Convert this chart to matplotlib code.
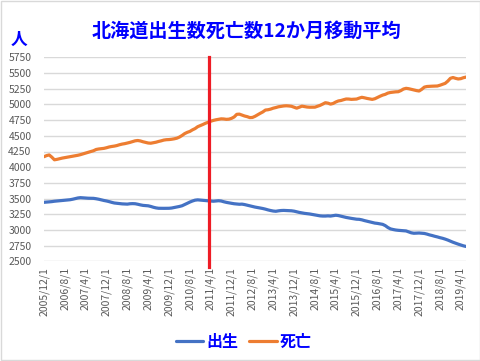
import numpy as np
import pandas as pd
import matplotlib
matplotlib.use("Agg")
import matplotlib.pyplot as plt
from matplotlib.patches import Rectangle

plt.rcParams['font.family'] = ['Noto Sans CJK JP', 'DejaVu Sans']

# 12-month moving averages, monthly from 2005/12 to 2019/6
start_month = "2005-12-01"

births = [
    3441, 3444, 3448, 3452, 3458, 3462, 3466, 3470, 3475, 3478, 3482, 3490,
    3500, 3510, 3515, 3512, 3508, 3506, 3505, 3504, 3498, 3490, 3480, 3470,
    3462, 3452, 3440, 3430, 3425, 3420, 3416, 3414, 3412, 3418, 3420, 3418,
    3410, 3400, 3392, 3388, 3385, 3375, 3362, 3352, 3346, 3345, 3345, 3346,
    3346, 3350, 3358, 3366, 3375, 3386, 3405, 3425, 3445, 3462, 3475, 3480,
    3476, 3472, 3467, 3465, 3462, 3458, 3462, 3466, 3462, 3450, 3440, 3432,
    3425, 3418, 3414, 3410, 3412, 3405, 3395, 3385, 3375, 3365, 3358, 3350,
    3342, 3332, 3320, 3310, 3302, 3298, 3305, 3310, 3312, 3310, 3308, 3306,
    3300, 3290, 3280, 3272, 3265, 3260, 3255, 3248, 3240, 3232, 3225, 3222,
    3222, 3225, 3222, 3228, 3235, 3230, 3220, 3210, 3200, 3192, 3185, 3178,
    3172, 3170, 3162, 3150, 3140, 3130, 3120, 3110, 3105, 3098, 3090, 3070,
    3040, 3018, 3008, 3000, 2995, 2992, 2990, 2985, 2970, 2955, 2948, 2950,
    2952, 2948, 2945, 2935, 2922, 2912, 2900, 2890, 2878, 2868, 2855, 2840,
    2822, 2805, 2790, 2775, 2762, 2748, 2738,
]

deaths = [
    4167, 4185, 4195, 4160, 4118, 4125, 4135, 4145, 4152, 4160, 4168, 4175,
    4182, 4190, 4200, 4212, 4225, 4238, 4250, 4262, 4282, 4290, 4295, 4300,
    4310, 4322, 4330, 4336, 4345, 4358, 4368, 4375, 4385, 4395, 4408, 4420,
    4425, 4418, 4405, 4395, 4385, 4382, 4390, 4398, 4410, 4420, 4432, 4438,
    4440, 4445, 4452, 4462, 4480, 4505, 4535, 4555, 4570, 4595, 4615, 4645,
    4662, 4680, 4700, 4715, 4732, 4745, 4755, 4762, 4770, 4768, 4762, 4765,
    4778, 4800, 4842, 4845, 4830, 4815, 4805, 4790, 4792, 4810, 4835, 4858,
    4880, 4910, 4915, 4925, 4940, 4950, 4962, 4968, 4975, 4978, 4975, 4970,
    4955, 4940, 4955, 4972, 4965, 4958, 4955, 4955, 4956, 4970, 4985, 5005,
    5027, 5020, 5005, 5015, 5038, 5055, 5062, 5075, 5086, 5085, 5080, 5083,
    5085, 5100, 5113, 5105, 5095, 5088, 5080, 5090, 5110, 5130, 5148, 5160,
    5180, 5190, 5195, 5200, 5202, 5220, 5245, 5256, 5250, 5240, 5230, 5220,
    5213, 5240, 5275, 5285, 5288, 5290, 5292, 5293, 5305, 5320, 5335, 5370,
    5415, 5428, 5415, 5405, 5410, 5425, 5435,
]

title = "北海道出生数死亡数12か月移動平均"
quake_pos = 63.5  # red marker around 2011/3-4

dates = pd.date_range(start_month, periods=len(births), freq="MS")
labels = [f"{d.year}/{d.month}/1" for d in dates]
x = np.arange(len(births))

fig = plt.figure(figsize=(4.81, 3.61), dpi=100)
ax = fig.add_axes([44/481, 1-261.4/361, 422/481, (261.4-57.3)/361])

ax.plot(x, births, color='#4472c4', lw=2.3, label='出生', solid_capstyle='round')
ax.plot(x, deaths, color='#ed7d31', lw=2.3, label='死亡', solid_capstyle='round')
ax.axvline(quake_pos, ymin=-0.025, ymax=1, color='#ee1c25', lw=2.3, clip_on=False, zorder=5)

ax.set_xlim(0, len(births) - 1)
ax.set_ylim(2500, 5750)
ax.set_yticks(np.arange(2500, 5751, 250))
ax.set_xticks(x[::8])
ax.set_xticklabels(labels[::8], rotation=90)
ax.grid(axis='y', color='#d9d9d9', lw=1)
ax.set_axisbelow(True)
for s in ax.spines.values():
    s.set_visible(False)
ax.tick_params(length=0, labelsize=7.5, labelcolor='#595959')
ax.tick_params(axis='y', pad=9)
ax.tick_params(axis='x', pad=4)

fig.text(0.512, 1-31/361, title, color='#0000ff', fontsize=13.8, fontweight='bold',
         ha='center', va='center')
fig.text(19/481, 1-40/361, '人', color='#0000ff', fontsize=12, fontweight='bold',
         ha='center', va='center')

leg = fig.legend(loc='center', bbox_to_anchor=(0.507, 1-342/361), ncol=2, frameon=False,
                 handlelength=1.7, handletextpad=0.2, columnspacing=0.7,
                 prop={'size': 11.5, 'weight': 'bold'})
for t in leg.get_texts():
    t.set_color('#0000ff')

fig.patches.append(Rectangle((0.002, 0.003), 0.995, 0.994, transform=fig.transFigure,
                             fill=False, edgecolor='#d9d9d9', lw=1))

fig.savefig("out.png", dpi=100)
